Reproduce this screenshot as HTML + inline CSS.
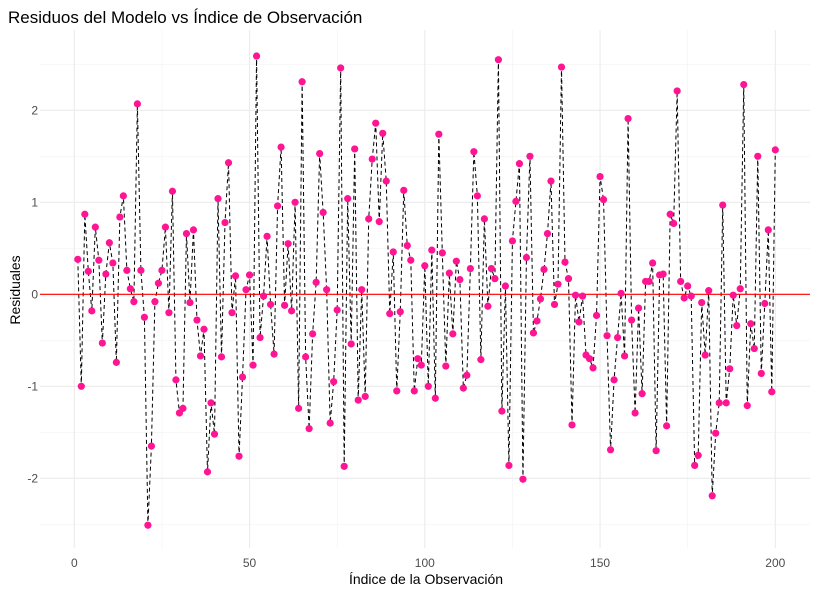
<!DOCTYPE html>
<html><head><meta charset="utf-8"><style>
body{margin:0;background:#fff}
svg text{font-family:"Liberation Sans",sans-serif}
</style></head><body>
<svg id="chart" width="818" height="594" viewBox="0 0 818 594" xmlns="http://www.w3.org/2000/svg">
<rect width="818" height="594" fill="#fff"/>
<text x="8" y="23" font-size="17" fill="#000">Residuos del Modelo vs Índice de Observación</text>
<g id="grid"></g>
<g id="axes"></g>
<g id="series"></g>
<text x="426" y="584" font-size="14" text-anchor="middle" fill="#000">Índice de la Observación</text>
<text transform="translate(20,290) rotate(-90)" font-size="14" text-anchor="middle" fill="#000">Residuales</text>
</svg>
<script>
const residuals = [0.38,-1.00,0.87,0.25,-0.18,0.73,0.37,-0.53,0.22,0.56,0.34,-0.74,0.84,1.07,0.26,0.06,-0.08,2.07,0.26,-0.25,-2.51,-1.65,-0.08,0.12,0.26,0.73,-0.20,1.12,-0.93,-1.29,-1.24,0.66,-0.09,0.70,-0.28,-0.67,-0.38,-1.93,-1.18,-1.52,1.04,-0.68,0.78,1.43,-0.20,0.20,-1.76,-0.90,0.05,0.21,
-0.77,2.59,-0.47,-0.02,0.63,-0.11,-0.65,0.96,1.60,-0.12,0.55,-0.18,1.00,-1.24,2.31,-0.68,-1.46,-0.43,0.13,1.53,0.89,0.05,-1.40,-0.95,-0.17,2.46,-1.87,1.04,-0.54,1.58,-1.15,0.05,-1.11,0.82,1.47,1.86,0.79,1.75,1.23,-0.21,0.46,-1.05,-0.19,1.13,0.53,0.37,-1.05,-0.70,-0.77,0.31,
-1.00,0.48,-1.13,1.74,0.45,-0.78,0.23,-0.43,0.36,0.16,-1.02,-0.88,0.28,1.55,1.07,-0.71,0.82,-0.13,0.28,0.17,2.55,-1.27,0.09,-1.86,0.58,1.01,1.42,-2.01,0.40,1.50,-0.42,-0.29,-0.05,0.27,0.66,1.23,-0.11,0.11,2.47,0.35,0.17,-1.42,-0.01,-0.30,-0.02,-0.66,-0.70,-0.80,-0.23,1.28,
1.03,-0.45,-1.69,-0.93,-0.47,0.01,-0.67,1.91,-0.28,-1.29,-0.15,-1.08,0.14,0.14,0.34,-1.70,0.21,0.22,-1.43,0.87,0.77,2.21,0.14,-0.04,0.09,-0.02,-1.86,-1.75,-0.09,-0.66,0.04,-2.19,-1.51,-1.18,0.97,-1.18,-0.81,-0.01,-0.34,0.06,2.28,-1.21,-0.32,-0.59,1.50,-0.86,-0.10,0.70,-1.06,1.57];
const xTicks = [0,50,100,150,200];
const yTicks = [-2,-1,0,1,2];
const xMinor = [25,75,125,175];
const yMinor = [-2.5,-1.5,-0.5,0.5,1.5,2.5];

const NS="http://www.w3.org/2000/svg";
const X0=74.3, XS=3.505, Y0=294.3, YS=92;
const PL=40, PR=810, PT=30, PB=548;
const sx=v=>X0+v*XS, sy=v=>Y0-v*YS;
function mk(tag,attrs,parent){const e=document.createElementNS(NS,tag);for(const k in attrs)e.setAttribute(k,attrs[k]);parent.appendChild(e);return e;}
const grid=document.getElementById('grid'), axes=document.getElementById('axes'), series=document.getElementById('series');
xMinor.forEach(v=>{const l=mk('line',{x1:sx(v),x2:sx(v),y1:PT,y2:PB,stroke:'#f2f2f2','stroke-width':0.6},grid);

});
yMinor.forEach(v=>{const l=mk('line',{x1:PL,x2:PR,y1:sy(v),y2:sy(v),stroke:'#f2f2f2','stroke-width':0.6},grid);

});
xTicks.forEach(v=>{const l=mk('line',{x1:sx(v),x2:sx(v),y1:PT,y2:PB,stroke:'#ebebeb','stroke-width':1.1},grid);


const t=mk('text',{x:sx(v),y:567,'font-size':12,'text-anchor':'middle',fill:'#4d4d4d'},axes);t.textContent=v;

});
yTicks.forEach(v=>{const l=mk('line',{x1:PL,x2:PR,y1:sy(v),y2:sy(v),stroke:'#ebebeb','stroke-width':1.1},grid);


const t=mk('text',{x:38,y:sy(v)+4,'font-size':12,'text-anchor':'end',fill:'#4d4d4d'},axes);t.textContent=v;

});
const pts=residuals.map((r,i)=>sx(i+1).toFixed(2)+','+sy(r).toFixed(2)).join(' ');
const line=mk('polyline',{points:pts,fill:'none',stroke:'#000','stroke-width':1,'stroke-dasharray':'4,3'},series);


const z=mk('line',{x1:PL,x2:PR,y1:sy(0),y2:sy(0),stroke:'#ff0000','stroke-width':1.1},series);


residuals.forEach((r,i)=>{const c=mk('circle',{cx:sx(i+1),cy:sy(r),r:3.6,fill:'#ff1493'},series);

});
</script>
</body></html>
